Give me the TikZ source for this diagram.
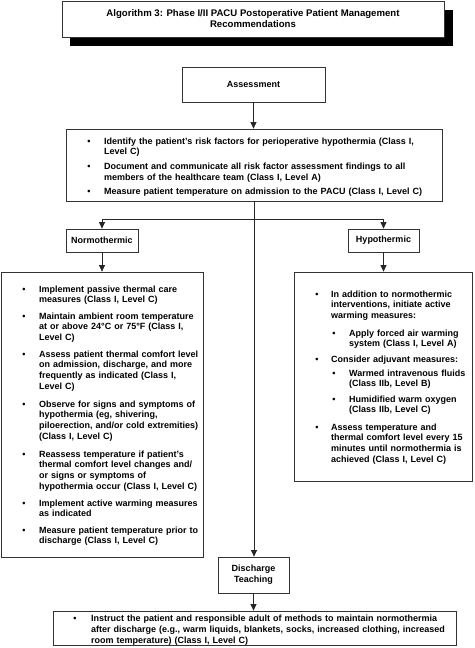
\documentclass[tikz,border=0pt]{standalone}
\usepackage{fontspec}
\setmainfont{Liberation Sans}
\usetikzlibrary{arrows.meta}
\newcommand\myfs{\fontsize{9}{10.8}\selectfont\bfseries}
\newcommand\mytfs{\fontsize{9.6}{11}\selectfont\bfseries}
\begin{document}
\begin{tikzpicture}[x=1pt,y=-1pt,
  box/.style={draw=black!80, line width=0.8pt, fill=white, inner sep=0pt, font=\myfs, align=center},
  itm/.style={anchor=base west, inner sep=0pt, align=left, font=\myfs, text width=400pt},
  blt/.style={anchor=base, inner sep=0pt, font=\myfs},
  arr/.style={draw=black!85, line width=0.8pt, -{Triangle[width=6pt,length=6.5pt]}},
  ln/.style={draw=black!85, line width=0.8pt}]
\useasboundingbox (0,0) rectangle (474,648);

% title
\fill[black] (70,10) rectangle (453,46);
\node[box, minimum width=382, minimum height=36, font=\mytfs] (title) at (253,19)
  {Algorithm 3: Phase I/II PACU Postoperative Patient Management\\Recommendations};

% boxes
\node[box, minimum width=143, minimum height=35] (assess) at (253.5,84.5) {Assessment};
\node[box, minimum width=376, minimum height=72] (alist) at (254,165) {};
\node[box, minimum width=72, minimum height=23] (normo) at (102,240.5) {Normothermic};
\node[box, minimum width=71, minimum height=23] (hypo) at (383.5,240.5) {Hypothermic};
\node[box, minimum width=202, minimum height=285] (lbox) at (102,414.5) {};
\node[box, minimum width=178, minimum height=209] (rbox) at (383,376.5) {};
\node[box, minimum width=71, minimum height=36] (disch) at (253.5,575) {Discharge\\Teaching};
\node[box, minimum width=403, minimum height=34] (bbox) at (254.5,628) {};

% assessment list
\node[blt] (ab1) at (89,144) {\textbullet};
\node[itm] (a1) at (104,144) {Identify the patient's risk factors for perioperative hypothermia (Class I,\\Level C)};
\node[blt] (ab2) at (89,169.5) {\textbullet};
\node[itm] (a2) at (104,169.5) {Document and communicate all risk factor assessment findings to all\\members of the healthcare team (Class I, Level A)};
\node[blt] (ab3) at (89,194) {\textbullet};
\node[itm] (a3) at (104,194) {Measure patient temperature on admission to the PACU (Class I, Level C)};

% left list
\node[blt] (lb1) at (24,292) {\textbullet};
\node[itm] (l1) at (39,292) {Implement passive thermal care\\measures (Class I, Level C)};
\node[blt] (lb2) at (24,319) {\textbullet};
\node[itm] (l2) at (39,319) {Maintain ambient room temperature\\at or above 24°C or 75°F (Class I,\\Level C)};
\node[blt] (lb3) at (24,357) {\textbullet};
\node[itm] (l3) at (39,357) {Assess patient thermal comfort level\\on admission, discharge, and more\\frequently as indicated (Class I,\\Level C)};
\node[blt] (lb4) at (24,407) {\textbullet};
\node[itm] (l4) at (39,407) {Observe for signs and symptoms of\\hypothermia (eg, shivering,\\piloerection, and/or cold extremities)\\(Class I, Level C)};
\node[blt] (lb5) at (24,457) {\textbullet};
\node[itm] (l5) at (39,457) {Reassess temperature if patient's\\thermal comfort level changes and/\\or signs or symptoms of\\hypothermia occur (Class I, Level C)};
\node[blt] (lb6) at (24,506) {\textbullet};
\node[itm] (l6) at (39,506) {Implement active warming measures\\as indicated};
\node[blt] (lb7) at (24,533) {\textbullet};
\node[itm] (l7) at (39,533) {Measure patient temperature prior to\\discharge (Class I, Level C)};

% right list
\node[blt] (rb1) at (317,297) {\textbullet};
\node[itm] (r1) at (331,297) {In addition to normothermic\\interventions, initiate active\\warming measures:};
\node[blt] (rs1) at (334,336) {\textbullet};
\node[itm] (s1) at (349,336) {Apply forced air warming\\system (Class I, Level A)};
\node[blt] (rb2) at (317,362) {\textbullet};
\node[itm] (r2) at (331,362) {Consider adjuvant measures:};
\node[blt] (rs2) at (334,376) {\textbullet};
\node[itm] (s2) at (349,376) {Warmed intravenous fluids\\(Class IIb, Level B)};
\node[blt] (rs3) at (334,402) {\textbullet};
\node[itm] (s3) at (349,402) {Humidified warm oxygen\\(Class IIb, Level C)};
\node[blt] (rb3) at (317,430) {\textbullet};
\node[itm] (r3) at (331,430) {Assess temperature and\\thermal comfort level every 15\\minutes until normothermia is\\achieved (Class I, Level C)};

% bottom list
\node[blt] (bb1) at (75,621.5) {\textbullet};
\node[itm] (b1) at (91,621.5) {Instruct the patient and responsible adult of methods to maintain normothermia\\after discharge (e.g., warm liquids, blankets, socks, increased clothing, increased\\room temperature) (Class I, Level C)};

% connectors
\coordinate (branch) at (254,219);
\draw[arr] (assess.south) -- (assess.south |- alist.north);
\draw[arr] (alist.south) -- (alist.south |- disch.north);
\draw[arr] (branch) -| (normo.north);
\draw[arr] (branch) -| (hypo.north);
\draw[arr] (normo.south) -- (normo.south |- lbox.north);
\draw[arr] (hypo.south) -- (hypo.south |- rbox.north);
\draw[arr] (disch.south) -- (disch.south |- bbox.north);
\end{tikzpicture}
\end{document}
